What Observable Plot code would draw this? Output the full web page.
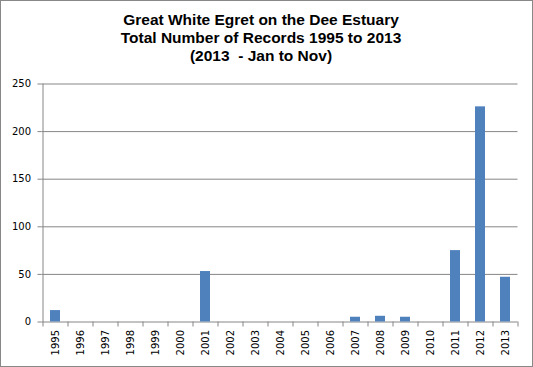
<!DOCTYPE html>
<html>
<head>
<meta charset="utf-8">
<script src="https://cdn.jsdelivr.net/npm/d3@7"></script>
<script src="https://cdn.jsdelivr.net/npm/@observablehq/plot@0.6"></script>
<style>
  html, body { margin: 0; padding: 0; background: #fff; }
  #wrap { position: relative; width: 533px; height: 367px; overflow: hidden; background: #fff; }
  #wrap svg { position: absolute; left: 0; top: 0; }
  #wrap svg text { font-family: "DejaVu Sans", Verdana, sans-serif !important; font-size: 10px; }
  #title { position: absolute; left: 0; top: 10.5px; width: 522px; text-align: center;
           font-family: "Liberation Sans", Arial, sans-serif; font-weight: bold; font-size: 15.5px;
           line-height: 18.2px; color: #000; }
  #border { position: absolute; left: 0; top: 0; width: 533px; height: 367px; box-sizing: border-box;
            border: 1px solid #888; pointer-events: none; }
</style>
</head>
<body>
<div id="wrap">
  <div id="title">Great White Egret on the Dee Estuary<br>Total Number of Records 1995 to 2013<br>(2013&nbsp; - Jan to Nov)</div>
</div>
<script>
const years = ["1995","1996","1997","1998","1999","2000","2001","2002","2003","2004","2005","2006","2007","2008","2009","2010","2011","2012","2013"];
const records = [12,0,0,0,0,0,53,0,0,0,0,0,5,6,5,0,75,226,47];
const yTicks = [0,50,100,150,200,250];

const data = years.map((y, i) => ({year: y, value: records[i]}));
const half = 12.5; // half of one category step, to put separators between categories
const grey = "#868686";

const chart = Plot.plot({
  width: 533,
  height: 367,
  marginTop: 83.5,
  marginBottom: 45.5,
  marginLeft: 41.5,
  marginRight: 15.5,
  style: {fontFamily: "'DejaVu Sans', Verdana, sans-serif", fontSize: "10px", background: "transparent", color: "#000"},
  x: {domain: years, paddingInner: 0.6, paddingOuter: 0.3, label: null},
  y: {domain: [0, 250], label: null},
  marks: [
    Plot.ruleY(yTicks, {stroke: grey, strokeWidth: 1}),
    Plot.barY(data, {x: "year", y: "value", fill: "#4F81BD"}),
    Plot.ruleX([years[0]], {dx: -half, y1: 250, y2: 0, insetBottom: -5, stroke: grey}),
    Plot.ruleX(years.slice(1), {dx: -half, y1: 0, y2: 0, insetBottom: -5, stroke: grey}),
    Plot.ruleX([years[years.length - 1]], {dx: half, y1: 0, y2: 0, insetBottom: -5, stroke: grey}),
    Plot.axisY({ticks: yTicks, tickSize: 4, tickPadding: 7, stroke: grey, fill: "#000", label: null}),
    Plot.axisX({tickSize: 0, tickPadding: 8, tickRotate: -90, fill: "#000", label: null})
  ]
});
document.getElementById("wrap").appendChild(chart);
const b = document.createElement("div");
b.id = "border";
document.getElementById("wrap").appendChild(b);
</script>
</body>
</html>
